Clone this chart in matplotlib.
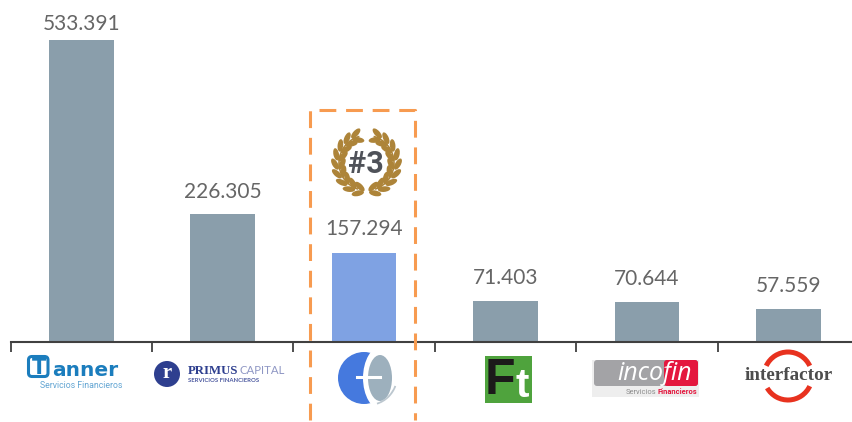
import numpy as np
import matplotlib
matplotlib.use('Agg')
import matplotlib.pyplot as plt
from matplotlib.patches import Ellipse, Circle, Wedge, Rectangle, FancyBboxPatch

empresas = ['Tanner', 'Primus Capital', 'Eurocapital', 'Factotal', 'Incofin', 'Interfactor']
valores = [533391, 226305, 157294, 71403, 70644, 57559]
etiquetas = ['533.391', '226.305', '157.294', '71.403', '70.644', '57.559']
colores = ['#8a9eab', '#8a9eab', '#7fa2e3', '#8a9eab', '#8a9eab', '#8a9eab']
# distancia etiqueta-barra en px
offset_px = [6, 12, 14, 13, 13, 13]

W, H = 852, 422
fig = plt.figure(figsize=(W / 100, H / 100), dpi=100)

# grafico principal
ax = fig.add_axes([10.7 / W, (H - 341.5) / H, (W - 10.7) / W, 341.5 / H])
x = np.arange(len(valores))
ax.bar(x, valores, width=0.457, color=colores)
ax.set_xlim(-0.5, 5.45)
ax.set_ylim(0, 605000)
for s in ['top', 'left', 'right']:
    ax.spines[s].set_visible(False)
ax.spines['bottom'].set_color('#404040')
ax.spines['bottom'].set_linewidth(1.5)
ax.set_yticks([])
ax.set_xticks(x - 0.5)
ax.set_xticklabels([])
ax.tick_params(axis='x', length=7, width=1.3, color='#404040')
ax.patch.set_alpha(0)
for i in range(len(valores)):
    ax.annotate(etiquetas[i], (x[i], valores[i]),
                xytext=(0, offset_px[i] * 0.72), textcoords='offset points',
                ha='center', va='bottom', fontsize=15, family='Lato',
                color='#666666', clip_on=False)

# capa en pixeles para los logos y el recuadro
top = fig.add_axes([0, 0, 1, 1])
top.set_xlim(0, W)
top.set_ylim(H, 0)
top.axis('off')
top.patch.set_alpha(0)

# recuadro punteado
top.plot([310, 310, 415, 415], [420, 110, 110, 420], color='#f79b50', lw=2.2,
         dashes=(5.5, 3.2), solid_capstyle='butt')

# laurel
oro = '#ad8439'
cx, cy, r = 366.5, 163, 27.5
top.add_patch(Wedge((cx, cy), r + 0.8, 108, 255, width=1.6, color=oro, lw=0))
top.add_patch(Wedge((cx, cy), r + 0.8, -75, 72, width=1.6, color=oro, lw=0))
for lado in [-1, 1]:
    for ang in np.arange(-74, 72, 18):
        t = np.radians(ang)
        for d, rot in [(-3, -28), (4, 28)]:
            px = cx + lado * (r + d) * np.cos(t)
            py = cy - (r + d) * np.sin(t)
            top.add_patch(Ellipse((px, py), 12.5, 5.6, angle=lado * (90 + ang) * -1 + lado * rot, color=oro, lw=0))
top.text(cx - 1, cy + 1, '#3', fontsize=22, fontweight='bold', family='Roboto', color='#4f5259',
         ha='center', va='center')

# logo Tanner
azul = '#1b7dbd'
top.add_patch(FancyBboxPatch((28.5, 356.5), 19.5, 20, boxstyle='round,pad=0,rounding_size=3.5',
                             fc='none', ec=azul, lw=2.2))
top.text(38.5, 367.5, 'T', fontsize=15, fontweight='bold', family='DejaVu Sans', color=azul, ha='center', va='center')
top.text(52, 376.5, 'anner', fontsize=14.5, fontweight='bold', family='DejaVu Sans', color=azul, ha='left', va='baseline')
top.text(81.5, 386, 'Servicios Financieros', fontsize=6.3, family='Roboto', color='#62a5d3', ha='center', va='center')

# logo Primus
top.add_patch(Circle((167, 374), 13, color='#2e3f8f', lw=0))
top.text(167, 373, 'r', fontsize=15, fontweight='bold', family='Liberation Serif', color='white', ha='center', va='center')
top.text(188, 374, 'PRIMUS', fontsize=9.2, fontweight='bold', family='Liberation Serif', color='#2e3f8f', ha='left', va='baseline')
top.text(239, 374, 'CAPITAL', fontsize=8.2, family='Lato', color='#8f97c4', ha='left', va='baseline')
top.text(188, 381, 'SERVICIOS FINANCIEROS', fontsize=4.3, fontweight='bold', family='Lato', color='#4d5aa0', ha='left', va='center')

# logo central
top.add_patch(Circle((364, 378), 26, color='#4579de', lw=0))
top.add_patch(Ellipse((382, 378), 38, 64, color='white', lw=0))
top.add_patch(Ellipse((380, 378), 24, 46, color='#9db0bd', lw=0))
top.plot([357, 380], [377, 377], color='white', lw=2.2)
top.add_patch(Wedge((368, 376), 30, 20, 72, width=1.8, color='#bcc7cf', lw=0))

# logo Ft
top.add_patch(Rectangle((485, 356), 47, 47, color='#4fa33d', lw=0))
top.text(485, 381, 'F', fontsize=36, fontweight='bold', family='Liberation Sans', color='#1c1a1a', ha='left', va='center')
top.text(515, 386, 't', fontsize=29, fontweight='bold', family='Liberation Sans', color='white', ha='left', va='center')

# logo incofin
top.add_patch(Rectangle((592, 360), 107, 37, color='#eeeeee', lw=0))
top.add_patch(FancyBboxPatch((594, 360), 104, 26, boxstyle='round,pad=0,rounding_size=3', fc='#a3a3a6', ec='none'))
top.add_patch(FancyBboxPatch((664, 360), 34, 26, boxstyle='round,pad=0,rounding_size=3', fc='#e4173e', ec='none'))
top.text(617, 380.5, 'incofin', fontsize=18, style='italic', family='Open Sans', color='white', ha='left', va='baseline')
top.text(626, 392, 'Servicios', fontsize=5.4, family='Roboto', color='#8c8c8c', ha='left', va='center')
top.text(658, 392, 'Financieros', fontsize=5.4, fontweight='bold', family='Roboto', color='#e4173e', ha='left', va='center')

# logo interfactor
rojo = '#e8321f'
top.add_patch(Wedge((788, 376), 26.5, 205, 335, width=5, color=rojo, lw=0))
top.add_patch(Wedge((788, 376), 26.5, 25, 150, width=5, color=rojo, lw=0))
top.text(789, 376, 'interfactor', fontsize=13.8, fontweight='bold', family='Liberation Serif', color='#4d4d4d',
         ha='center', va='center')

fig.savefig('out.png', dpi=100)
